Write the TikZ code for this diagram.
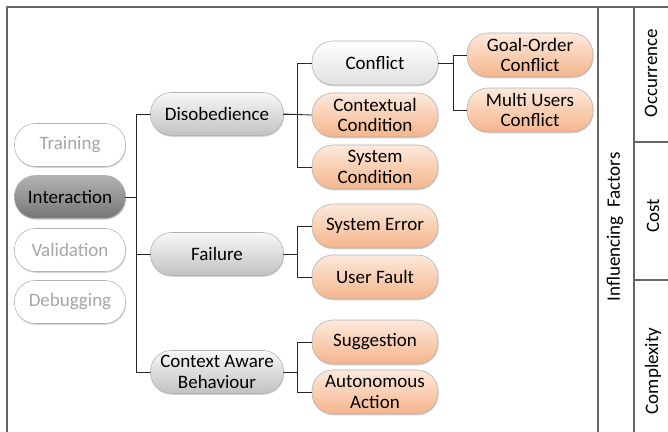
\documentclass[tikz,border=0pt]{standalone}
\usepackage{fontspec}
\setmainfont{Carlito}
\usetikzlibrary{shadows}
\definecolor{peachtop}{RGB}{252,233,220}
\definecolor{peachbot}{RGB}{245,181,140}
\definecolor{darktop}{RGB}{178,178,178}
\definecolor{darkbot}{RGB}{118,118,118}

\begin{document}
\begin{tikzpicture}[x=0.025cm, y=-0.025cm, line cap=round, line join=round,
		font=\fontsize{13.5}{14.6}\selectfont,
		box/.style={draw=black!30, rounded corners=0.52cm, align=center,
			minimum height=1.1cm, inner sep=1pt,
			drop shadow={shadow xshift=0.4pt, shadow yshift=-0.9pt, opacity=0.35}},
		phase/.style={box, minimum width=2.775cm, minimum height=1.075cm,
			fill=white, text=black!35},
		active/.style={box, minimum width=2.775cm, minimum height=1.075cm,
			top color=darktop, bottom color=darkbot},
		kind/.style={box, minimum width=3.325cm, minimum height=1.075cm,
			top color=black!3, bottom color=black!24},
		leaf/.style={box, minimum width=3.15cm,
			top color=peachtop, bottom color=peachbot},
		open/.style={box, minimum width=3.15cm,
			top color=white, bottom color=black!12},
		link/.style={draw=black!85, semithick},
		frame/.style={draw=black!60, thick}]
	
	\useasboundingbox (0,0) rectangle (668,432);
	
	%========================
	% frame and factor columns
	%========================
	\draw[frame] (7,432) -- (7,7) -- (668,7);
	\draw[frame, very thick] (7,7) -- (7,432);
	\draw[frame] (598,7) -- (598,432);
	\draw[frame] (634,7) -- (634,432);
	\draw[frame] (634,142) -- (668,142);
	\draw[frame] (634,280) -- (668,280);
	\node[rotate=90] (factors) at (615,227) {Influencing\ \ Factors};
	\node[rotate=90] (occur) at (651,73) {Occurrence};
	\node[rotate=90] (cost) at (653,216) {Cost};
	\node[rotate=90] (cmplx) at (653,371) {Complexity};
	
	%========================
	% phases
	%========================
	\node[phase] (train) at (70,145) {Training};
	\node[active] (inter) at (70,197) {Interaction};
	\node[phase] (valid) at (70,250) {Validation};
	\node[phase] (debug) at (70,302) {Debugging};
	
	%========================
	% interaction kinds
	%========================
	\node[kind] (diso) at (217,114) {Disobedience};
	\node[kind] (fail) at (217,254) {Failure};
	\node[kind] (aware) at (217,372) {Context Aware\\Behaviour};
	
	% disobedience causes
	\node[open] (confl) at (375,63) {Conflict};
	\node[leaf] (ctxcond) at (375,115) {Contextual\\Condition};
	\node[leaf] (syscond) at (375,167) {System\\Condition};
	\node[leaf] (goal) at (530,55) {Goal-Order\\Conflict};
	\node[leaf] (multi) at (530,110) {Multi Users\\Conflict};
	
	% failure causes
	\node[leaf] (syserr) at (375,226) {System Error};
	\node[leaf] (usrflt) at (375,277) {User Fault};
	
	% context aware behaviour
	\node[leaf] (suggest) at (375,342) {Suggestion};
	\node[leaf] (auto) at (375,392) {Autonomous\\Action};
	
	%========================
	% connectors
	%========================
	\draw[link] (inter.east) -- ++(11,0) |- (diso.west);
	\draw[link] (inter.east) -- ++(11,0) |- (fail.west);
	\draw[link] (inter.east) -- ++(11,0) |- (aware.west);
	
	\draw[link] (diso.east) -- ++(14,0) |- (confl.west);
	\draw[link] (diso.east) -- (ctxcond.west);
	\draw[link] (diso.east) -- ++(14,0) |- (syscond.west);
	
	\draw[link] (confl.east) -- ++(15,0) |- (goal.west);
	\draw[link] (confl.east) -- ++(15,0) |- (multi.west);
	
	\draw[link] (fail.east) -- ++(14,0) |- (syserr.west);
	\draw[link] (fail.east) -- ++(14,0) |- (usrflt.west);
	
	\draw[link] (aware.east) -- ++(14,0) |- (suggest.west);
	\draw[link] (aware.east) -- ++(14,0) |- (auto.west);
	
\end{tikzpicture}
\end{document}
